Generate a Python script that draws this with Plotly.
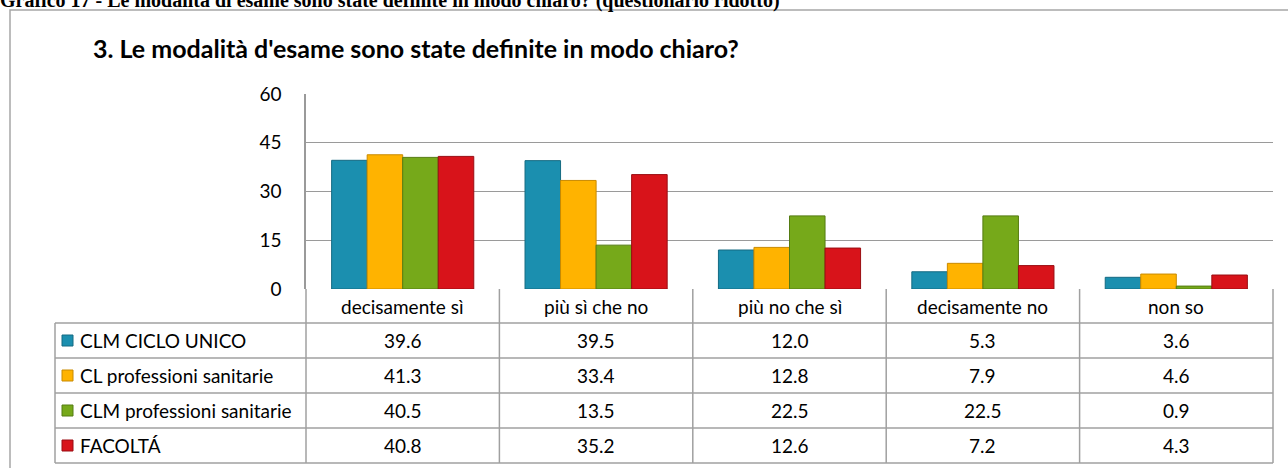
import plotly.graph_objects as go

categories = ["decisamente sì", "più sì che no", "più no che sì", "decisamente no", "non so"]
series_names = ["CLM CICLO UNICO", "CL professioni sanitarie", "CLM professioni sanitarie", "FACOLTÁ"]
clm_ciclo_unico = [39.6, 39.5, 12.0, 5.3, 3.6]
cl_prof_sanitarie = [41.3, 33.4, 12.8, 7.9, 4.6]
clm_prof_sanitarie = [40.5, 13.5, 22.5, 22.5, 0.9]
facolta = [40.8, 35.2, 12.6, 7.2, 4.3]
series_values = [clm_ciclo_unico, cl_prof_sanitarie, clm_prof_sanitarie, facolta]
y_ticks = [0, 15, 30, 45, 60]

colors = ["#1B8FAF", "#FFB300", "#76A91A", "#D8131A"]
edges = ["#146A82", "#C98A00", "#557C12", "#9A0D12"]

W, H = 1288, 468
L, R, T, B = 306, 1273, 94, 289  # plot area in pixels
pw, ph = R - L, B - T


def px(x):
    return (x - L) / pw


def py(y):
    return (B - y) / ph


FONT = "Lato"
FS = 19
fig = go.Figure()
for name, vals, c, e in zip(series_names, series_values, colors, edges):
    fig.add_trace(go.Bar(
        x=categories, y=vals, name=name,
        marker=dict(color=c, line=dict(color=e, width=1)),
        showlegend=False,
    ))

shapes = []
annotations = []
line_col = "#A0A0A0"

# outer box
shapes.append(dict(type="rect", xref="paper", yref="paper",
                   x0=px(10), x1=px(1300), y0=py(480), y1=py(10),
                   line=dict(color="#A6A6A6", width=1.5), layer="below"))

# table geometry
header_top, header_bot = 289, 323
row_h = 35
legend_left = 55
ncat = len(categories)
col_w = pw / ncat
for i in range(len(series_names) + 1):
    yy = header_bot + i * row_h
    shapes.append(dict(type="line", xref="paper", yref="paper",
                       x0=px(legend_left), x1=px(R), y0=py(yy), y1=py(yy),
                       line=dict(color=line_col, width=1.5)))
table_bot = header_bot + len(series_names) * row_h
shapes.append(dict(type="line", xref="paper", yref="paper",
                   x0=px(legend_left), x1=px(legend_left), y0=py(header_bot), y1=py(table_bot),
                   line=dict(color=line_col, width=1.5)))
for j in range(ncat + 1):
    xx = L + j * col_w
    shapes.append(dict(type="line", xref="paper", yref="paper",
                       x0=px(xx), x1=px(xx), y0=py(header_top), y1=py(table_bot),
                       line=dict(color=line_col, width=1.5)))

for cat in categories:
    annotations.append(dict(x=cat, xref="x", y=py((header_top + header_bot) / 2), yref="paper",
                            text=cat, showarrow=False, xanchor="center", yanchor="middle",
                            font=dict(family=FONT, size=FS, color="#000")))

for i, (name, vals, c, e) in enumerate(zip(series_names, series_values, colors, edges)):
    yc = header_bot + i * row_h + row_h / 2
    shapes.append(dict(type="rect", xref="paper", yref="paper",
                       x0=px(62), x1=px(73), y0=py(yc + 5.5), y1=py(yc - 5.5),
                       fillcolor=c, line=dict(color=e, width=1)))
    annotations.append(dict(x=px(78), xref="paper", y=py(yc), yref="paper",
                            text=name, showarrow=False, xanchor="left", yanchor="middle",
                            font=dict(family=FONT, size=FS, color="#000")))
    for cat, v in zip(categories, vals):
        annotations.append(dict(x=cat, xref="x", y=py(yc), yref="paper",
                                text=f"{v:.1f}", showarrow=False, xanchor="center", yanchor="middle",
                                font=dict(family=FONT, size=FS, color="#000")))

annotations.append(dict(x=px(91), xref="paper", y=py(48), yref="paper",
                        text="<b>3. Le modalità d'esame sono state definite in modo chiaro?</b>",
                        showarrow=False, xanchor="left", yanchor="middle",
                        font=dict(family=FONT, size=25, color="#000")))

fig.update_layout(
    width=W, height=H,
    margin=dict(l=L, r=W - R, t=T, b=H - B, pad=0),
    paper_bgcolor="white", plot_bgcolor="white",
    barmode="group", bargap=0.265, bargroupgap=0,
    title=dict(text="<b>Grafico 17 - Le modalità di esame sono state definite in modo chiaro? (questionario ridotto)</b>",
               x=0, xanchor="left", xref="container", y=1.0, yref="container", yanchor="middle",
               pad=dict(t=0, b=0, l=0, r=0),
               font=dict(family="Liberation Serif", size=20, color="#000")),
    xaxis=dict(showticklabels=False, showgrid=False, showline=False, zeroline=False, ticks=""),
    yaxis=dict(range=[0, 60], tickvals=y_ticks, showgrid=True, gridcolor="#9A9A9A", gridwidth=1.3,
               showline=True, linecolor="#9A9A9A", linewidth=1.5, zeroline=False,
               ticks="", ticklabelstandoff=19,
               tickfont=dict(family=FONT, size=FS, color="#000")),
    shapes=shapes, annotations=annotations,
)

fig.write_html("out.html", config={"displayModeBar": False},
               post_script="document.body.style.margin='0';document.body.style.overflow='hidden';")
